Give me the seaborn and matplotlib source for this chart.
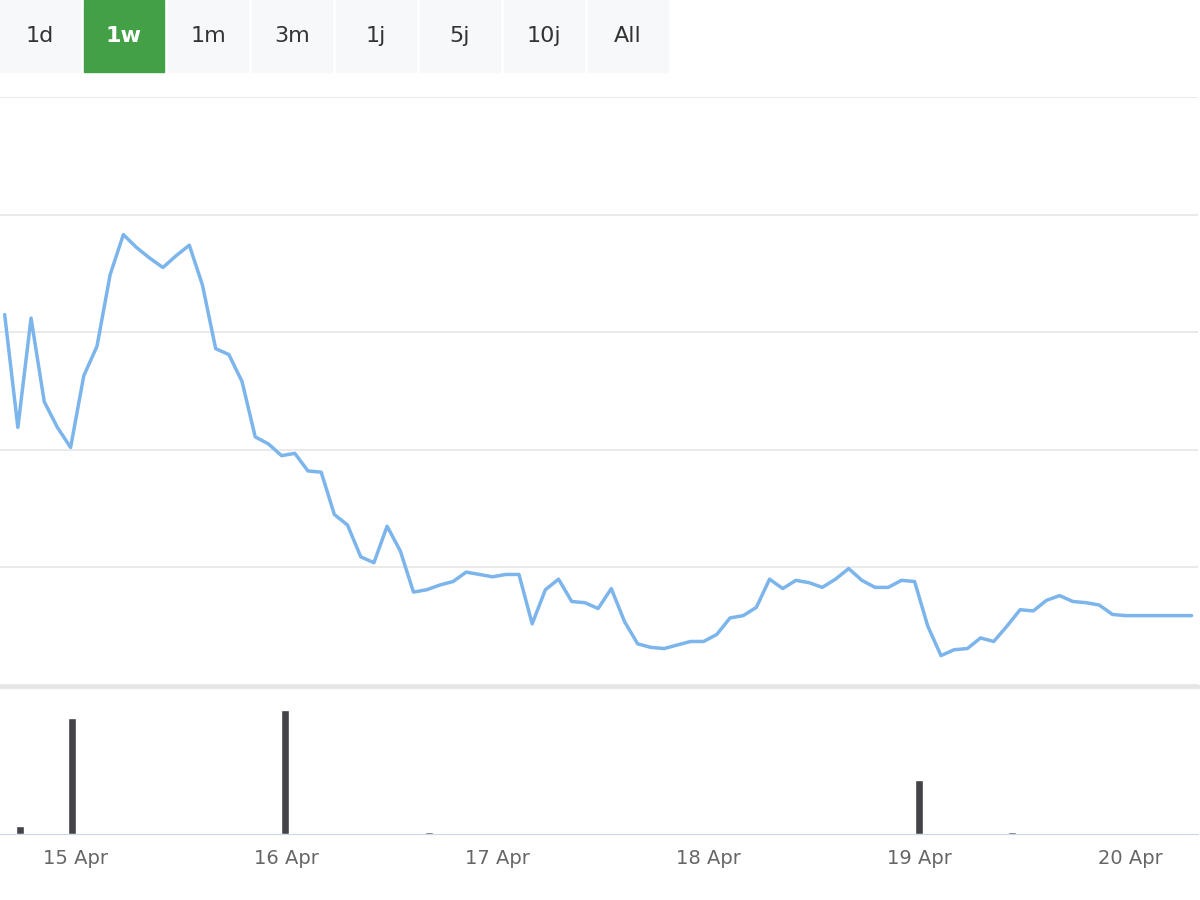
import numpy as np
import pandas as pd
import matplotlib
matplotlib.use("Agg")
import matplotlib.pyplot as plt
import seaborn as sns
from matplotlib.patches import Rectangle

# Kurs (ohne Achsenbeschriftung), alle 1.5 h ab 14 Apr 16:00
price = [3.15, 2.19, 3.12, 2.41, 2.19, 2.02, 2.63, 2.88, 3.49, 3.83, 3.72, 3.63, 3.55, 3.65, 3.74,
         3.40, 2.86, 2.81, 2.58, 2.11, 2.05, 1.95, 1.97, 1.82, 1.81, 1.45, 1.36, 1.09, 1.04, 1.35,
         1.14, 0.79, 0.81, 0.85, 0.88, 0.96, 0.94, 0.92, 0.94, 0.94, 0.52, 0.81, 0.90, 0.71, 0.70,
         0.65, 0.82, 0.54, 0.35, 0.32, 0.31, 0.34, 0.37, 0.37, 0.43, 0.57, 0.59, 0.66, 0.90, 0.82,
         0.89, 0.87, 0.83, 0.90, 0.99, 0.89, 0.83, 0.83, 0.89, 0.88, 0.50, 0.25, 0.30, 0.31, 0.40,
         0.37, 0.50, 0.64, 0.63, 0.72, 0.76, 0.71, 0.70, 0.68, 0.60, 0.59, 0.59, 0.59, 0.59, 0.59, 0.59]
t0 = -8 / 24
days = [t0 + i * 1.5 / 24 for i in range(len(price))]

vol_days = [-0.26, -0.014, 0.995, 1.68, 4.0, 4.44]
vol = [8, 116, 124, 2, 54, 2]

tick_days = [0, 1, 2, 3, 4, 5]
tick_labels = ["15 Apr", "16 Apr", "17 Apr", "18 Apr", "19 Apr", "20 Apr"]
buttons = ["1d", "1w", "1m", "3m", "1j", "5j", "10j", "All"]

sns.set_style("white")
plt.rcParams['font.family'] = ['DejaVu Sans']

fig = plt.figure(figsize=(12, 9), dpi=100)
xmin, xmax = -75 / 211, (1198 - 75) / 211

ax = fig.add_axes([0, 1 - 685 / 900, 1198 / 1200, (685 - 97) / 900])
df = pd.DataFrame({"t": days, "p": price})
sns.lineplot(data=df, x="t", y="p", ax=ax, color="#7cb5ec", linewidth=2.5)
ax.set_xlim(xmin, xmax)
ax.set_ylim(0, 5)
ax.set_yticks([0, 1, 2, 3, 4, 5])
ax.yaxis.grid(True, color="#e6e6e6", linewidth=1.2)
ax.set_xticks([])
ax.set_yticklabels([])
ax.tick_params(left=False)
ax.set_xlabel("")
ax.set_ylabel("")
for s in ax.spines.values():
    s.set_visible(False)

axv = fig.add_axes([0, 1 - 834 / 900, 1198 / 1200, (834 - 687) / 900])
axv.bar(vol_days, vol, width=8 / 211, color="#434348")
axv.set_xlim(xmin, xmax)
axv.set_ylim(0, 147)
axv.set_yticks([])
axv.set_xticks(tick_days)
axv.set_xticklabels(tick_labels, fontsize=14, color="#666666")
axv.tick_params(axis="x", length=10, width=1.5, color="#333333", direction="inout", pad=6)
for k, s in axv.spines.items():
    s.set_visible(k == "bottom")
axv.spines["bottom"].set_color("#ccd6eb")
axv.spines["top"].set_visible(True)
axv.spines["top"].set_color("#e6e6e6")
axv.spines["top"].set_linewidth(3)

for i, b in enumerate(buttons):
    x0 = i * 84
    sel = b == "1w"
    fig.patches.append(Rectangle((x0 / 1200, 1 - 72 / 900), 80 / 1200, 72 / 900,
                                 transform=fig.transFigure,
                                 color="#43a047" if sel else "#f7f8fa"))
    fig.text((x0 + 40) / 1200, 1 - 36 / 900, b, ha="center", va="center", fontsize=16,
             color="white" if sel else "#333333", weight="bold" if sel else "normal")

fig.savefig("out.png", dpi=100)
